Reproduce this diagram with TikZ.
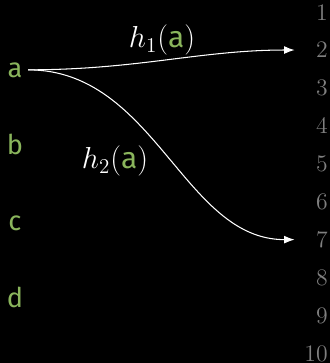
\documentclass[tikz,border=0pt]{standalone}
\usepackage{fontspec}
\setsansfont{Fira Sans}
\usepackage{xcolor}
\usetikzlibrary{arrows.meta}
\definecolor{keygreen}{RGB}{138,181,92}
\definecolor{slotgrey}{RGB}{128,128,128}
\newcommand{\key}[1]{\textcolor{keygreen}{\textsf{#1}}}

\begin{document}
\begin{tikzpicture}[x=0.02cm, y=-0.02cm,
  keynode/.style={font=\fontsize{15.5}{18}\selectfont\sffamily, text=keygreen, inner sep=0pt, anchor=base},
  slotnode/.style={font=\fontsize{13.5}{16}\selectfont, text=slotgrey, inner sep=0pt, anchor=base east},
  hasharrow/.style={white, -{Latex[length=6pt, width=4.5pt]}, line width=0.6pt},
  hashlabel/.style={font=\fontsize{17}{20}\selectfont, text=white, inner sep=0pt}]
% Canvas in pixel units, y grows downward.
\fill[black] (0,0) rectangle (330,363);
\useasboundingbox (0,0) rectangle (330,363);
% Keys on the left, baselines about 77px apart
\node[keynode] (ka) at (15,77) {a};
\node[keynode] (kb) at (15,154) {b};
\node[keynode] (kc) at (15,230) {c};
\node[keynode] (kd) at (15,307) {d};
% Slots 1..10 on the right
\foreach \i in {1,...,10}
  \node[slotnode] (s\i) at (328, {20 + 37.9*(\i-1)}) {\i};
% Hash arrows
\draw[hasharrow, shorten <=3pt, shorten >=12pt] (ka.east) to[out=0, in=180] (s2.west);
\draw[hasharrow, shorten <=3pt, shorten >=12pt] (ka.east) to[out=0, in=180] (s7.west);
\node[hashlabel] (l1) at (162,40) {$h_1(\key{a})$};
\node[hashlabel] (l2) at (115,161) {$h_2(\key{a})$};
\end{tikzpicture}
\end{document}
